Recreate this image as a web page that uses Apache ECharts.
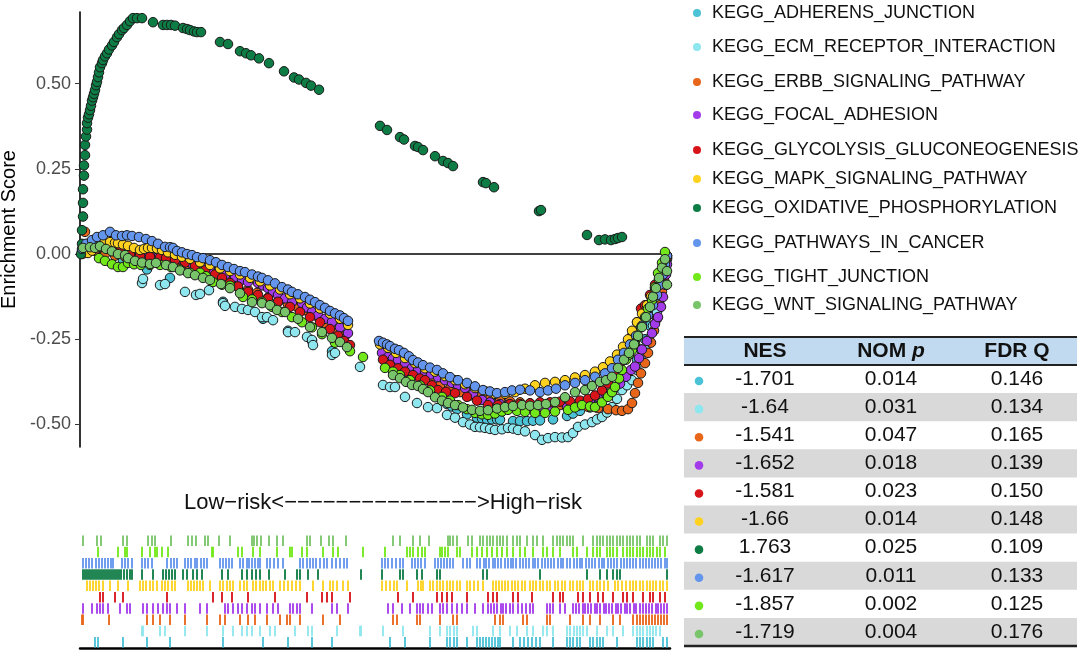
<!DOCTYPE html>
<html>
<head>
<meta charset="utf-8">
<script src="https://cdn.jsdelivr.net/npm/echarts@6/dist/echarts.min.js"></script>
<style>
  html, body { margin: 0; padding: 0; background: #fff; }
  #chart { width: 1084px; height: 657px; }
</style>
</head>
<body>
<div id="chart"></div>
<script>
const FONT = "'Liberation Sans', Arial, Helvetica, sans-serif";

// gene sets, in legend / table order
const pathways = [
  'KEGG_ADHERENS_JUNCTION',
  'KEGG_ECM_RECEPTOR_INTERACTION',
  'KEGG_ERBB_SIGNALING_PATHWAY',
  'KEGG_FOCAL_ADHESION',
  'KEGG_GLYCOLYSIS_GLUCONEOGENESIS',
  'KEGG_MAPK_SIGNALING_PATHWAY',
  'KEGG_OXIDATIVE_PHOSPHORYLATION',
  'KEGG_PATHWAYS_IN_CANCER',
  'KEGG_TIGHT_JUNCTION',
  'KEGG_WNT_SIGNALING_PATHWAY'
];
const pathwayColors = ['#4BC2D6', '#8EE6EE', '#E8661A', '#A43BEB', '#D7141A',
  '#FFD21F', '#0E7C45', '#6495ED', '#72E81A', '#78C46A'];

// table values
const nesValues = ['-1.701', '-1.64', '-1.541', '-1.652', '-1.581', '-1.66', '1.763', '-1.617', '-1.857', '-1.719'];
const nomPValues = ['0.014', '0.031', '0.047', '0.018', '0.023', '0.014', '0.025', '0.011', '0.002', '0.004'];
const fdrQValues = ['0.146', '0.134', '0.165', '0.139', '0.150', '0.148', '0.109', '0.133', '0.125', '0.176'];

const yTicks = [-0.5, -0.25, 0, 0.25, 0.5];
const rankMax = 590;

// running enrichment score at each hit: [rank position, ES]
const adherensES = [[15,0.01],[18,0.015],[43,-0.02],[67,-0.045],[90,-0.07],[143,-0.14],[183,-0.19],[208,-0.225],[232,-0.255],[252,-0.285],
  [310,-0.33],[325,-0.355],[350,-0.4],[367,-0.44],[372,-0.447],[377,-0.455],[387,-0.47],[397,-0.48],[402,-0.482],[407,-0.485],[412,-0.485],[417,-0.485],[420,-0.486],[433,-0.49],[440,-0.49],[447,-0.49],[453,-0.489],[460,-0.488],[473,-0.485],[487,-0.475],[493,-0.468],[500,-0.46],[510,-0.45],[516,-0.44],[523,-0.425],[537,-0.39],[557,-0.31],[561,-0.28],[565,-0.25],[570,-0.21],[573,-0.175],[577,-0.135],[583,-0.075],[585,-0.045],[587,-0.012]];
const ecmES = [[62,-0.085],[63,-0.073],[80,-0.091],[85,-0.088],[105,-0.111],[116,-0.12],[120,-0.117],[129,-0.106],[143,-0.144],[145,-0.152],[155,-0.155],[162,-0.161],[168,-0.164],[175,-0.17],[182,-0.185],[187,-0.185],[193,-0.194],[208,-0.229],[215,-0.229],[227,-0.243],[232,-0.252],[233,-0.267],[252,-0.296],[255,-0.29],[280,-0.331],
  [303,-0.384],[310,-0.39],[315,-0.39],[325,-0.419],[337,-0.437],[348,-0.449],[357,-0.452],[367,-0.472],[375,-0.48],[383,-0.493],[390,-0.5],[395,-0.507],[400,-0.508],[405,-0.51],[410,-0.513],[415,-0.516],[422,-0.514],[428,-0.51],[433,-0.512],[438,-0.516],[445,-0.52],[455,-0.531],[462,-0.545],[468,-0.54],[475,-0.537],[482,-0.538],[488,-0.537],[493,-0.525],[498,-0.507],[505,-0.5],[512,-0.493],[517,-0.485],[522,-0.478],[527,-0.465],[532,-0.449],[537,-0.425],[542,-0.399],[547,-0.385],[552,-0.37],[557,-0.34],[561,-0.31],[565,-0.28],[569,-0.25],[573,-0.21],[577,-0.17],[580,-0.13],[583,-0.09],[585,-0.05],[587,-0.015]];
const erbbES = [[5,0.065],[8,0.03],[15,0.01],[25,0],[35,-0.005],[45,-0.008],[55,-0.01],[66,-0.012],[75,-0.015],[80,-0.012],[90,-0.02],[98,-0.023],[108,-0.03],[118,-0.04],[128,-0.05],[138,-0.062],[148,-0.078],[158,-0.097],[168,-0.105],[177,-0.114],[188,-0.128],[198,-0.141],[208,-0.148],[217,-0.155],[225,-0.165],[232,-0.173],[238,-0.185],[245,-0.202],[252,-0.215],[258,-0.229],[265,-0.24],
  [305,-0.315],[310,-0.325],[315,-0.33],[322,-0.34],[330,-0.35],[340,-0.36],[350,-0.372],[360,-0.385],[370,-0.395],[380,-0.405],[390,-0.415],[400,-0.42],[410,-0.425],[420,-0.43],[430,-0.432],[440,-0.435],[450,-0.438],[460,-0.44],[470,-0.442],[480,-0.443],[488,-0.443],[498,-0.445],[508,-0.448],[518,-0.452],[528,-0.455],[536,-0.458],[542,-0.46],[548,-0.455],[552,-0.437],[555,-0.408],[558,-0.378],[561,-0.35],[565,-0.32],[568,-0.29],[571,-0.26],[574,-0.225],[577,-0.19],[580,-0.15],[582,-0.11],[584,-0.075],[586,-0.04],[587,-0.01]];
const focalES = [[2,0.01],[10,0.015],[20,0.02],[30,0.02],[40,0.015],[50,0.01],[60,0.003],[66,-0.003],[71,-0.009],[78,-0.01],[85,-0.012],[95,-0.009],[100,-0.015],[105,-0.02],[113,-0.032],[120,-0.035],[126,-0.04],[130,-0.043],[138,-0.052],[145,-0.062],[155,-0.067],[162,-0.075],[168,-0.082],[178,-0.085],[183,-0.092],[188,-0.1],[193,-0.11],[198,-0.12],[205,-0.13],[212,-0.141],[222,-0.144],[227,-0.157],[232,-0.17],[238,-0.18],[245,-0.19],[252,-0.199],[260,-0.215],[268,-0.232],
  [302,-0.29],[308,-0.302],[313,-0.306],[318,-0.311],[325,-0.322],[332,-0.334],[338,-0.34],[345,-0.346],[351,-0.353],[358,-0.361],[365,-0.37],[372,-0.378],[378,-0.385],[385,-0.393],[393,-0.41],[402,-0.428],[410,-0.435],[420,-0.44],[428,-0.443],[438,-0.445],[448,-0.447],[460,-0.448],[472,-0.45],[487,-0.449],[500,-0.44],[510,-0.43],[518,-0.42],[526,-0.41],[534,-0.395],[540,-0.38],[546,-0.36],[551,-0.34],[555,-0.33],[559,-0.305],[562,-0.28],[567,-0.255],[572,-0.232],[575,-0.205],[578,-0.185],[581,-0.155],[583,-0.126],[585,-0.09],[586,-0.06],[587,-0.03]];
const glycolysisES = [[4,0.01],[12,0.02],[20,0.02],[26,0.023],[32,0.015],[40,0.008],[50,0],[60,-0.005],[70,-0.008],[80,-0.01],[86,-0.012],[95,-0.018],[105,-0.025],[115,-0.035],[125,-0.048],[135,-0.06],[142,-0.07],[150,-0.085],[158,-0.095],[168,-0.111],[178,-0.12],[188,-0.13],[198,-0.14],[210,-0.155],[220,-0.17],[230,-0.185],[240,-0.2],[250,-0.22],[258,-0.24],[264,-0.255],[270,-0.267],
  [303,-0.31],[310,-0.325],[318,-0.335],[325,-0.345],[333,-0.355],[340,-0.365],[345,-0.37],[352,-0.385],[358,-0.399],[366,-0.404],[375,-0.408],[387,-0.419],[397,-0.43],[408,-0.443],[418,-0.443],[430,-0.44],[440,-0.44],[450,-0.438],[460,-0.435],[470,-0.435],[480,-0.433],[490,-0.432],[500,-0.43],[508,-0.425],[515,-0.415],[522,-0.4],[528,-0.38],[534,-0.355],[540,-0.32],[546,-0.28],[552,-0.24],[557,-0.2],[561,-0.16],[565,-0.15],[570,-0.12],[575,-0.09],[580,-0.06],[584,-0.03],[587,-0.005]];
const mapkES = [[2,0],[5,0.003],[8,0.003],[12,0.01],[17,0.02],[23,0.03],[30,0.035],[35,0.033],[38,0.032],[43,0.028],[48,0.024],[54,0.018],[60,0.012],[64,0.015],[68,0.018],[72,0.018],[77,0.016],[82,0.012],[88,0.005],[95,-0.002],[102,-0.008],[110,-0.014],[120,-0.024],[130,-0.032],[140,-0.042],[150,-0.05],[160,-0.06],[170,-0.07],[180,-0.08],[190,-0.092],[200,-0.104],[210,-0.118],[220,-0.13],[230,-0.145],[240,-0.16],[250,-0.175],[260,-0.19],[268,-0.208],
  [300,-0.265],[308,-0.275],[316,-0.29],[325,-0.305],[335,-0.32],[345,-0.335],[355,-0.345],[365,-0.358],[375,-0.37],[385,-0.382],[395,-0.393],[405,-0.402],[415,-0.41],[425,-0.41],[435,-0.405],[445,-0.395],[455,-0.385],[465,-0.378],[475,-0.375],[485,-0.37],[495,-0.362],[505,-0.355],[515,-0.345],[523,-0.332],[530,-0.315],[537,-0.295],[543,-0.272],[548,-0.25],[552,-0.225],[557,-0.2],[562,-0.175],[567,-0.15],[571,-0.125],[575,-0.1],[579,-0.075],[582,-0.05],[585,-0.025],[587,-0.005]];
const oxphosES = [[1,0],[2,0.03],[2,0.07],[3,0.11],[3,0.15],[3,0.19],[4,0.23],[4,0.26],[5,0.29],[5,0.32],[6,0.345],[7,0.365],[7,0.384],[8,0.4],[9,0.41],[10,0.422],[11,0.435],[12,0.45],[13,0.46],[14,0.47],[15,0.481],[16,0.495],[17,0.505],[18,0.519],[19,0.533],[20,0.548],[22,0.56],[23,0.569],[25,0.58],[27,0.589],[29,0.6],[32,0.612],[34,0.622],[37,0.636],[39,0.645],[42,0.657],[44,0.663],[47,0.672],[50,0.683],[53,0.692],[57,0.692],[62,0.692],[73,0.68],[83,0.672],[87,0.672],[91,0.672],[95,0.67],[103,0.663],[107,0.66],[110,0.657],[114,0.653],[117,0.651],[121,0.651],[140,0.622],[148,0.616],[160,0.595],[166,0.589],[171,0.583],[179,0.574],[189,0.56],[204,0.536],[214,0.518],[219,0.512],[226,0.502],[231,0.494],[239,0.482],
  [300,0.376],[307,0.364],[320,0.343],[324,0.336],[335,0.317],[338,0.314],[343,0.305],[355,0.287],[363,0.273],[368,0.267],[373,0.258],[403,0.211],[406,0.208],[414,0.196],[459,0.126],[461,0.129],[507,0.056],[519,0.041],[525,0.043],[531,0.041],[535,0.044],[538,0.047],[542,0.05]];
const cancerES = [[2,0.015],[6,0.03],[12,0.041],[17,0.05],[23,0.055],[30,0.065],[36,0.055],[42,0.053],[47,0.055],[52,0.053],[59,0.05],[66,0.044],[72,0.038],[78,0.03],[85,0.021],[90,0.02],[93,0.018],[97,0.009],[102,0.005],[107,0],[112,-0.003],[117,-0.009],[123,-0.012],[130,-0.018],[136,-0.024],[142,-0.032],[148,-0.038],[154,-0.044],[160,-0.05],[165,-0.053],[172,-0.06],[178,-0.066],[182,-0.07],[188,-0.077],[195,-0.086],[202,-0.097],[208,-0.104],[212,-0.111],[218,-0.118],[225,-0.126],[230,-0.134],[235,-0.141],[240,-0.15],[245,-0.158],[250,-0.167],[255,-0.174],[260,-0.18],[264,-0.188],[268,-0.196],
  [299,-0.255],[303,-0.26],[307,-0.265],[310,-0.27],[315,-0.278],[319,-0.282],[324,-0.29],[329,-0.3],[333,-0.311],[338,-0.318],[343,-0.326],[350,-0.333],[357,-0.34],[363,-0.35],[370,-0.361],[378,-0.37],[387,-0.378],[395,-0.388],[403,-0.399],[410,-0.403],[417,-0.408],[425,-0.405],[432,-0.4],[440,-0.398],[450,-0.4],[460,-0.405],[468,-0.4],[476,-0.395],[485,-0.385],[495,-0.378],[505,-0.37],[515,-0.36],[525,-0.35],[532,-0.335],[538,-0.31],[544,-0.29],[550,-0.265],[556,-0.24],[562,-0.21],[568,-0.18],[573,-0.15],[577,-0.12],[580,-0.09],[583,-0.06],[585,-0.03],[587,-0.005]];
const tightES = [[19,-0.012],[25,-0.02],[32,-0.03],[38,-0.038],[43,-0.038],[48,-0.026],[54,-0.03],[61,-0.032],[70,-0.032],[80,-0.032],[91,-0.038],[100,-0.045],[110,-0.055],[120,-0.055],[126,-0.065],[133,-0.082],[142,-0.09],[150,-0.093],[163,-0.126],[172,-0.133],[182,-0.14],[192,-0.155],[202,-0.17],[212,-0.185],[222,-0.2],[232,-0.215],[242,-0.235],[255,-0.26],[270,-0.285],[283,-0.302],
  [305,-0.334],[313,-0.345],[320,-0.355],[330,-0.37],[340,-0.385],[350,-0.4],[362,-0.419],[370,-0.43],[378,-0.443],[387,-0.455],[395,-0.466],[402,-0.47],[408,-0.472],[415,-0.468],[422,-0.462],[428,-0.457],[437,-0.46],[445,-0.463],[455,-0.466],[465,-0.466],[475,-0.462],[488,-0.457],[495,-0.45],[502,-0.443],[510,-0.447],[515,-0.449],[522,-0.435],[528,-0.419],[532,-0.405],[535,-0.39],[539,-0.365],[542,-0.34],[546,-0.31],[549,-0.295],[552,-0.282],[555,-0.262],[558,-0.243],[561,-0.215],[565,-0.185],[568,-0.16],[572,-0.135],[575,-0.097],[578,-0.056],[582,-0.026],[585,0.006]];
const wntES = [[3,0.018],[10,0.02],[15,0.018],[20,0.023],[26,0.015],[32,0.008],[38,0],[45,-0.003],[48,-0.012],[55,-0.02],[62,-0.025],[70,-0.029],[76,-0.026],[86,-0.032],[93,-0.038],[100,-0.048],[108,-0.056],[115,-0.062],[123,-0.07],[130,-0.076],[141,-0.088],[150,-0.1],[160,-0.115],[172,-0.141],[182,-0.144],[190,-0.15],[197,-0.164],[205,-0.17],[218,-0.19],[230,-0.214],[242,-0.229],[252,-0.246],[260,-0.258],[267,-0.273],
  [313,-0.355],[320,-0.364],[326,-0.375],[332,-0.384],[338,-0.387],[343,-0.396],[348,-0.405],[355,-0.42],[362,-0.43],[368,-0.437],[375,-0.443],[383,-0.45],[392,-0.457],[400,-0.46],[408,-0.458],[417,-0.453],[425,-0.449],[433,-0.446],[442,-0.443],[450,-0.445],[458,-0.443],[466,-0.44],[475,-0.434],[485,-0.42],[495,-0.405],[505,-0.399],[512,-0.387],[520,-0.375],[526,-0.37],[532,-0.36],[538,-0.334],[544,-0.31],[549,-0.29],[554,-0.265],[558,-0.24],[562,-0.214],[566,-0.185],[570,-0.155],[573,-0.125],[576,-0.1],[579,-0.07],[582,-0.04],[585,-0.015],[587,-0.05],[587,-0.09]];

// rank positions of the gene-set members (rug rows)
const adherensHits = [15,18,43,67,90,143,183,208,232,252,310,325,350,367,370,374,377,387,397,400,403,406,409,412,415,418,420,433,440,444,448,452,456,460,473,487,490,493,497,500,510,513,517,520,523,537,557,560,563,567,570,573,583,587];
const ecmHits = [62,63,80,85,105,127,143,153,162,167,172,180,190,195,215,228,232,257,280,281,303,323,350,360,367,370,374,377,393,397,413,420,430,437,447,453,463,467,473,487,490,494,497,500,503,507,517,527,533,543,553,557,560,563,567,570,573,576,580];
const erbbHits = [2,3,29,67,73,80,90,105,127,140,145,160,168,175,187,200,207,210,220,243,260,313,317,337,340,360,373,377,415,420,423,443,447,467,470,490,503,510,520,533,540,553,557,560,563,566,569,572,575,578,581,584,587];
const focalHits = [3,12,17,20,23,28,40,47,50,63,67,73,78,83,87,90,97,105,120,127,145,148,153,158,162,167,172,175,180,187,193,198,210,213,217,220,232,252,257,268,308,313,322,330,337,340,343,348,352,360,363,367,372,377,382,387,395,403,408,411,414,417,421,423,426,430,433,438,442,446,450,453,467,470,473,480,485,493,496,499,503,505,508,511,515,517,520,524,526,529,532,536,538,541,545,547,550,554,556,560,563,566,569,572,576,578,581,584,587];
const glycolysisHits = [20,23,35,43,87,133,142,152,168,195,227,242,247,252,270,318,333,357,362,367,372,387,408,413,417,433,438,452,473,480,483,498,503,510,518,523,533,543,547,553,563,570,573,580,585];
const mapkHits = [7,10,13,16,19,23,30,38,48,60,63,66,70,73,77,82,85,88,92,95,108,111,114,117,120,123,130,140,143,147,150,153,160,164,167,173,176,180,183,186,190,193,200,204,208,212,216,220,233,243,250,253,257,263,268,302,306,310,314,317,327,338,341,343,350,353,357,360,363,367,370,373,377,380,387,390,394,398,403,413,416,419,422,425,428,432,435,438,442,445,450,453,456,460,463,467,470,475,478,482,485,490,493,497,500,503,510,513,517,520,524,528,535,538,542,546,550,553,556,560,563,567,570,573,576,580,583,587];
const oxphosHits = [3,5,7,9,11,13,15,17,19,21,23,25,27,29,31,33,35,37,39,41,44,47,50,52,62,73,83,86,89,92,95,103,107,113,117,122,142,148,162,167,172,176,180,189,205,217,220,228,238,281,302,320,323,337,342,357,360,403,407,460,507,520,527,533,537,540,587];
const cancerHits = [3,6,9,12,16,19,22,25,28,31,33,42,45,48,52,62,65,68,72,87,91,94,97,105,108,111,115,117,121,124,127,140,143,146,149,152,160,163,167,169,172,175,178,180,187,190,194,198,203,220,223,227,230,233,236,240,244,247,252,256,260,264,267,302,305,308,312,316,320,323,332,335,338,341,345,355,358,361,364,367,370,373,383,387,390,397,400,404,406,409,413,415,418,421,425,428,431,433,436,440,443,446,449,453,455,458,462,465,468,471,474,478,481,483,487,490,494,497,500,502,506,509,512,515,519,522,524,528,531,534,537,541,544,547,550,553,556,560,563,566,569,572,575,578,581,585,587];
const tightHits = [18,38,45,47,62,70,75,77,82,88,132,133,158,162,173,180,197,210,212,222,227,243,253,258,283,305,327,330,333,338,342,345,360,362,365,368,377,380,392,397,402,407,412,417,422,427,433,440,445,453,463,467,473,480,493,497,507,513,517,520,527,530,533,537,543,547,550,553,557,560,563,567,570,573,577,580,585];
const wntHits = [3,17,21,43,47,68,72,75,91,108,112,116,125,128,139,150,172,174,177,181,189,197,203,227,230,241,249,253,266,313,320,333,340,349,368,370,373,377,388,392,400,403,407,410,413,417,420,423,427,433,437,440,447,453,457,463,473,477,480,483,487,490,493,503,513,517,520,523,527,530,533,537,540,543,547,550,553,557,560,567,570,573,580,583,587];

const esSeriesData = [adherensES, ecmES, erbbES, focalES, glycolysisES, mapkES, oxphosES, cancerES, tightES, wntES];
const hitSeriesData = [adherensHits, ecmHits, erbbHits, focalHits, glycolysisHits, mapkHits, oxphosHits, cancerHits, tightHits, wntHits];

// layout
const legendCenters = [13, 47, 82, 115, 150, 179, 208, 243, 277, 305];
const table = { left: 684, right: 1077, top: 337, headerH: 28, rowH: 28.1, dotX: 699, colX: [765, 891, 1017] };

const chart = echarts.init(document.getElementById('chart'), null, { renderer: 'canvas' });

const scatterSeries = pathways.map((name, i) => {
  const s = {
    name: name,
    type: 'scatter',
    xAxisIndex: 0,
    yAxisIndex: 0,
    data: esSeriesData[i],
    symbol: 'circle',
    symbolSize: 9.5,
    itemStyle: { color: pathwayColors[i], borderColor: '#1a1a1a', borderWidth: 1, opacity: 1 },
    emphasis: { disabled: true },
    z: 3
  };
  if (i === 0) {
    s.markLine = {
      silent: true,
      symbol: 'none',
      label: { show: false },
      lineStyle: { color: '#000', width: 1.6, type: 'solid' },
      data: [{ yAxis: 0 }],
      z: 2
    };
  }
  return s;
});

const rugSeries = pathways.map((name, i) => ({
  name: name + ' hits',
  type: 'scatter',
  xAxisIndex: 1,
  yAxisIndex: 1,
  data: hitSeriesData[i].map(r => [r, name]),
  symbol: 'rect',
  symbolSize: [2, 10.5],
  itemStyle: { color: pathwayColors[i], opacity: 0.92 },
  emphasis: { disabled: true }
}));

const legends = pathways.map((name, i) => ({
  data: [name],
  left: 693,
  top: legendCenters[i] - 10,
  padding: 0,
  icon: 'circle',
  itemWidth: 20,
  itemHeight: 8,
  itemStyle: { borderWidth: 0 },
  selectedMode: false,
  textStyle: { fontFamily: FONT, fontSize: 18, color: '#111', lineHeight: 20 }
}));

// table drawn as graphic elements built from the value arrays
const tableGraphics = [];
tableGraphics.push({
  type: 'rect',
  shape: { x: table.left, y: table.top, width: table.right - table.left, height: table.headerH },
  style: { fill: '#C2DAEF' }
});
const bodyTop = table.top + table.headerH;
pathways.forEach((name, i) => {
  const y0 = bodyTop + i * table.rowH;
  if (i % 2 === 1) {
    tableGraphics.push({
      type: 'rect',
      shape: { x: table.left, y: y0, width: table.right - table.left, height: table.rowH },
      style: { fill: '#D9D9D9' }
    });
  }
  const cy = y0 + table.rowH / 2;
  tableGraphics.push({
    type: 'circle',
    shape: { cx: table.dotX, cy: cy + 2, r: 4.3 },
    style: { fill: pathwayColors[i] }
  });
  [nesValues[i], nomPValues[i], fdrQValues[i]].forEach((txt, c) => {
    tableGraphics.push({
      type: 'text',
      style: {
        text: txt, x: table.colX[c], y: cy,
        align: 'center', verticalAlign: 'middle',
        font: '21px ' + FONT, fill: '#111'
      }
    });
  });
});
const headerY = table.top + table.headerH / 2;
tableGraphics.push(
  { type: 'text', style: { text: 'NES', x: table.colX[0], y: headerY, align: 'center', verticalAlign: 'middle', font: 'bold 21px ' + FONT, fill: '#111' } },
  { type: 'text', style: { text: '{b|NOM }{i|p}', x: table.colX[1], y: headerY, align: 'center', verticalAlign: 'middle',
      rich: { b: { font: 'bold 21px ' + FONT, fill: '#111' }, i: { font: 'italic bold 21px ' + FONT, fill: '#111' } } } },
  { type: 'text', style: { text: 'FDR Q', x: table.colX[2], y: headerY, align: 'center', verticalAlign: 'middle', font: 'bold 21px ' + FONT, fill: '#111' } }
);
const bodyBottom = bodyTop + pathways.length * table.rowH;
[[table.top, 2], [bodyTop, 2], [bodyBottom, 2.6]].forEach(([y, w]) => {
  tableGraphics.push({
    type: 'line',
    shape: { x1: table.left, y1: y, x2: table.right, y2: y },
    style: { stroke: '#222', lineWidth: w }
  });
});

const option = {
  backgroundColor: '#fff',
  animation: false,
  textStyle: { fontFamily: FONT },
  legend: legends,
  grid: [
    { left: 80, top: 12, width: 590, height: 435, containLabel: false, outerBoundsMode: 'none' },
    { left: 80, top: 535, width: 590, height: 113, containLabel: false, outerBoundsMode: 'none' }
  ],
  xAxis: [
    { type: 'value', gridIndex: 0, min: 0, max: rankMax, show: false },
    {
      type: 'value', gridIndex: 1, min: 0, max: rankMax,
      axisLine: { show: true, onZero: false, lineStyle: { color: '#000', width: 2.5 } },
      axisTick: { show: false }, axisLabel: { show: false }, splitLine: { show: false }
    }
  ],
  yAxis: [
    {
      type: 'value', gridIndex: 0, min: -0.566, max: 0.71,
      name: 'Enrichment Score', nameLocation: 'middle', nameGap: 56, nameRotate: 90,
      nameTextStyle: { fontFamily: FONT, fontSize: 20, color: '#000' },
      axisLine: { show: true, onZero: false, lineStyle: { color: '#000', width: 1.6 } },
      axisTick: { show: true, length: 5, customValues: yTicks, lineStyle: { color: '#333', width: 1 } },
      axisLabel: {
        customValues: yTicks, margin: 9, fontFamily: FONT, fontSize: 18, color: '#4D4D4D',
        formatter: v => v.toFixed(2)
      },
      splitLine: { show: false }
    },
    {
      type: 'category', gridIndex: 1, data: pathways, show: false
    }
  ],
  graphic: [
    {
      type: 'text',
      style: {
        text: 'Low\u2212risk<\u2212\u2212\u2212\u2212\u2212\u2212\u2212\u2212\u2212\u2212\u2212\u2212\u2212\u2212\u2212>High\u2212risk',
        x: 383, y: 503, align: 'center', verticalAlign: 'middle',
        font: '22px ' + FONT, fill: '#111'
      }
    }
  ].concat(tableGraphics),
  series: scatterSeries.concat(rugSeries)
};

chart.setOption(option);
</script>
</body>
</html>
